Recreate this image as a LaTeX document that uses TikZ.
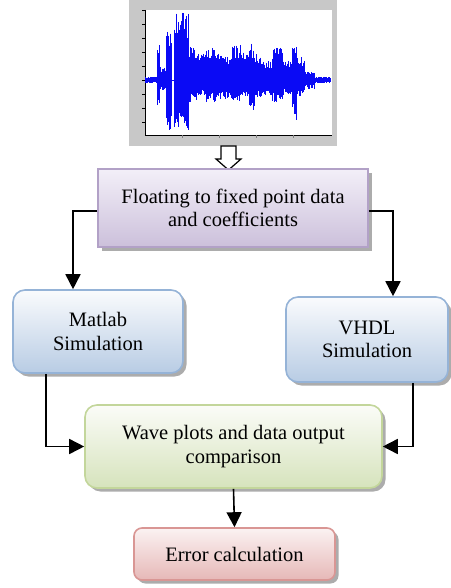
\documentclass[tikz,border=0pt]{standalone}
\usepackage{fontspec}
\setmainfont{Liberation Serif}
\usepackage{tikz}
\usetikzlibrary{positioning, arrows.meta, shadows, calc}
\definecolor{fixborder}{RGB}{178,161,199}
\definecolor{fixtop}{RGB}{243,239,248}
\definecolor{fixbottom}{RGB}{204,192,219}
\definecolor{simborder}{RGB}{149,179,215}
\definecolor{simtop}{RGB}{250,251,253}
\definecolor{simbottom}{RGB}{184,204,228}
\definecolor{cmpborder}{RGB}{195,214,155}
\definecolor{cmptop}{RGB}{251,252,248}
\definecolor{cmpbottom}{RGB}{214,227,188}
\definecolor{errborder}{RGB}{217,150,148}
\definecolor{errtop}{RGB}{251,242,242}
\definecolor{errbottom}{RGB}{230,184,183}
\definecolor{wavecolor}{RGB}{10,10,245}
\definecolor{framegray}{RGB}{200,200,200}
\newcommand{\boxfont}{\fontsize{20.5}{23.5}\selectfont}

\tikzset{
  flowbox/.style={draw, line width=1.6pt, align=center, inner sep=0pt, font=\boxfont,
    drop shadow={shadow xshift=3.5pt, shadow yshift=-3.5pt, fill=gray!65, opacity=1}},
  fixbox/.style={flowbox, draw=fixborder, top color=fixtop, bottom color=fixbottom},
  simbox/.style={flowbox, rounded corners=12pt, draw=simborder, top color=simtop, bottom color=simbottom},
  cmpbox/.style={flowbox, rounded corners=12pt, draw=cmpborder, top color=cmptop, bottom color=cmpbottom},
  errbox/.style={flowbox, rounded corners=8pt, draw=errborder, top color=errtop, bottom color=errbottom},
  flowarrow/.style={-{Triangle[length=15pt, width=15pt]}, line width=1.6pt},
  wave/.style={wavecolor, line width=0.9pt}
}

\begin{document}
\begin{tikzpicture}[x=1pt, y=-1pt]
    \useasboundingbox (0,0) rectangle (450,588);

    % Signal plot
    \fill[framegray] (129,0) rectangle (337,146);
    \fill[white] (145,10) rectangle (332,135);
    \draw[black, line width=0.8pt] (145,10) -- (145,135) -- (332,135);
    \foreach \ty in {10,24,38,52,66,80,94,108,122} {
        \draw[black, line width=0.5pt] (142,\ty) -- (145,\ty);
    }
    \foreach \tx in {182,219,256,293} {
        \draw[gray, line width=0.5pt] (\tx,135) -- (\tx,138);
    }
    \pgfmathsetseed{11}
    \draw[wave] (145,80) -- (331,80);
    \foreach \xa/\xb/\up/\dn in {145/157/3/3, 157/160/37/27, 160/166/12/10,
        166/172/48/48, 174/189/64/46, 189/197/30/20, 197/206/26/15,
        206/216/29/20, 216/232/24/18, 232/241/32/20, 241/249/26/16,
        249/255/33/30, 255/262/24/17, 262/272/17/14, 272/283/30/20,
        283/292/18/14, 292/297/32/36, 297/305/21/15, 305/315/8/8, 315/331/3/3} {
        \pgfmathsetmacro\xs{\xa+0.7}
        \foreach \x in {\xa,\xs,...,\xb} {
            \pgfmathsetmacro\u{min(\up*(0.65+0.45*rnd),67)}
            \pgfmathsetmacro\d{min(\dn*(0.65+0.45*rnd),50)}
            \draw[wave] (\x,{80-\u}) -- (\x,{80+\d});
        }
    }

    % Hollow arrow
    \draw[line width=1.2pt, fill=white] (221,146) -- (236,146) -- (236,159) -- (241,159)
        -- (228.5,170) -- (216,159) -- (221,159) -- cycle;

    % Boxes
    \node[fixbox, minimum width=270pt, minimum height=78pt] (fixp) at (233,208)
        {Floating to fixed point data\\and coefficients};
    \node[simbox, minimum width=170pt, minimum height=83pt] (matlab) at (98,331.5)
        {Matlab\\Simulation};
    \node[simbox, minimum width=162pt, minimum height=85pt] (vhdl) at (367,339.5)
        {VHDL\\Simulation};
    \node[cmpbox, minimum width=297pt, minimum height=83pt] (compare) at (233.5,446.5)
        {Wave plots and data output\\comparison};
    \node[errbox, minimum width=201pt, minimum height=52pt] (error) at (234.5,554)
        {Error calculation};

    % Connectors
    \draw[flowarrow] ([yshift=-3pt]fixp.west) -| ([xshift=-25pt]matlab.north);
    \draw[flowarrow] ([yshift=-3pt]fixp.east) -| ([xshift=26pt]vhdl.north);
    \draw[flowarrow] ([xshift=-52pt]matlab.south) |- (compare.west);
    \draw[flowarrow] ([xshift=46pt]vhdl.south) |- (compare.east);
    \draw[flowarrow] (compare.south) -- (error.north);
\end{tikzpicture}
\end{document}
